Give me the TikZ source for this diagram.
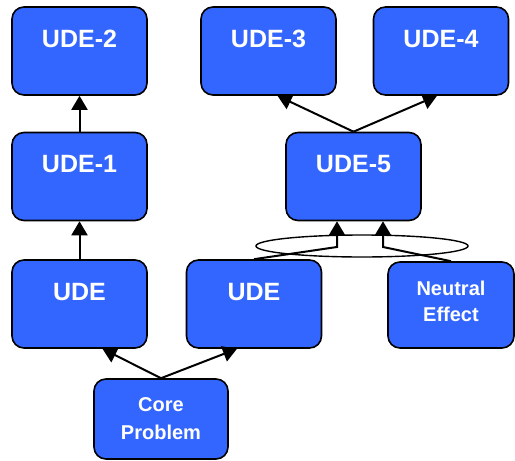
\documentclass[tikz,border=0pt]{standalone}
\usepackage{fontspec}
\setmainfont{Liberation Sans}
\usetikzlibrary{arrows.meta}
\definecolor{udeblue}{HTML}{3366FF}

\begin{document}
\begin{tikzpicture}[x=1pt,y=-1pt]
        \useasboundingbox (0,0) rectangle (515,461);
        \begin{scope}[every node/.style={draw,fill=udeblue,text=white,rounded corners=12pt,line width=1.6pt,
                minimum width=135pt,minimum height=88pt,inner sep=0pt,
                font=\fontsize{25}{30}\selectfont\bfseries,text height=18pt,text depth=26pt}]
            \node (ude2) at (79.5,51) {UDE-2};
            \node (ude3) at (268.5,51) {UDE-3};
            \node (ude4) at (441,51) {UDE-4};
            \node (ude1) at (79.5,176.5) {UDE-1};
            \node (ude5) at (353.5,176.5) {UDE-5};
            \node (udeA) at (79.5,304) {UDE};
            \node (udeB) at (254,304) {UDE};
            % two-line boxes, text centred
            \node[minimum width=126pt,minimum height=86pt,text height=,text depth=,align=center,
                font=\fontsize{20}{26}\selectfont\bfseries] (neutral) at (451,305) {Neutral\\Effect\\[-18pt]};
            \node[minimum width=134pt,minimum height=80pt,text height=,text depth=,align=center,
                font=\fontsize{20}{28}\selectfont\bfseries] (core) at (161,419) {Core\\Problem};
        \end{scope}
        \draw[line width=1.4pt] (362,246) ellipse [x radius=106pt,y radius=11pt];
        \coordinate (jl) at (337,247);
        \coordinate (jr) at (383,247);
        \begin{scope}[line width=2pt,-{Triangle[width=16pt,length=14pt]}]
            \draw (ude1.north)--(ude2.south);
            \draw (udeA.north)--(ude1.south);

            \draw (core.north)--([xshift=23pt]udeA.south);
            \draw (core.north)--([xshift=-17pt]udeB.south);

            \draw (udeB.north)--(jl)--(jl |- ude5.south);
            \draw (neutral.north)--(jr)--(jr |- ude5.south);

            \draw (ude5.north)--([xshift=9pt]ude3.south);
            \draw (ude5.north)--([xshift=-4pt]ude4.south);
        \end{scope}
    \end{tikzpicture}
\end{document}
